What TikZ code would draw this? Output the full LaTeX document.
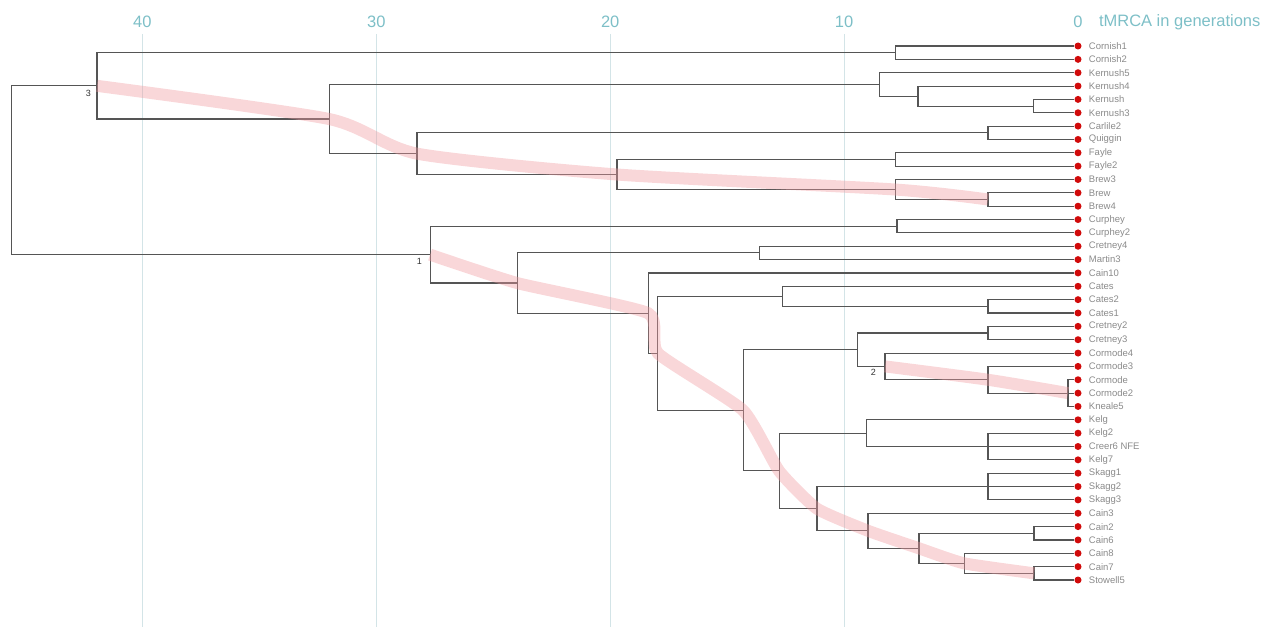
\documentclass[tikz,border=0pt]{standalone}
\usepackage{fontspec}
\setmainfont{Liberation Sans}
\usetikzlibrary{positioning}
\definecolor{branchgray}{HTML}{555555}
\definecolor{tipred}{HTML}{D10A0A}
\definecolor{leafgray}{HTML}{8A8A8A}
\definecolor{axisteal}{HTML}{7DBFC7}
\definecolor{gridblue}{HTML}{D3E4E7}
\definecolor{pathpink}{HTML}{F09AA0}
\tikzset{
  |-/.style={to path={|- (\tikztotarget) \tikztonodes}},
  branch/.style={draw=branchgray, line width=1.1pt},
  leaf/.style={shape=circle, fill=tipred, inner sep=0pt, minimum size=7pt},
  leaflab/.style={font=\fontsize{9.5}{10}\selectfont, text=leafgray, inner sep=0pt},
  axislab/.style={font=\fontsize{16.5}{18}\selectfont, text=axisteal, inner sep=1pt},
  gridline/.style={draw=gridblue, line width=1pt},
  hilite/.style={draw=pathpink, draw opacity=.4, line width=12pt},
  nodenum/.style={font=\fontsize{9}{10}\selectfont, text=black!80, inner sep=1pt}
}
\begin{document}
\begin{tikzpicture}[x=1pt, y=-1pt]
\useasboundingbox (0,0) rectangle (1273,626);
\begin{scope}[shift={(1078pt,-46pt)}, x=-23.39pt, y=-13.35pt]
  % time axis
  \foreach \g in {10,20,30,40}
    \draw[gridline] (\g,-0.9) -- (\g,43.5);
  \foreach \g in {0,10,...,40}
    \node[axislab] (ax\g) at (\g,-1.8) {\g};
  \node[axislab, right=14pt of ax0] (axtitle) {tMRCA in generations};
  % tips
  \foreach \nm [count=\i from 0] in {Cornish1,Cornish2,Kernush5,Kernush4,Kernush,Kernush3,
      Carlile2,Quiggin,Fayle,Fayle2,Brew3,Brew,Brew4,Curphey,Curphey2,Cretney4,Martin3,
      Cain10,Cates,Cates2,Cates1,Cretney2,Cretney3,Cormode4,Cormode3,Cormode,Cormode2,
      Kneale5,Kelg,Kelg2,Creer6 NFE,Kelg7,Skagg1,Skagg2,Skagg3,Cain3,Cain2,Cain6,Cain8,
      Cain7,Stowell5}
  {
    \node[leaf] (l\i) at (0,\i) {};
    \node[leaflab, right=7pt of l\i] (t\i) {\nm};
  }
  % inner nodes (age, row)
  \coordinate (root)    at (45.58, 9.30);
  \coordinate (k3)      at (41.94, 2.984);
  \coordinate (cornish) at ( 7.82, 0.5);
  \coordinate (n30)     at (32.02, 5.469);
  \coordinate (kernA)   at ( 8.47, 2.875);
  \coordinate (kernB)   at ( 6.84, 3.75);
  \coordinate (kernC)   at ( 1.92, 4.5);
  \coordinate (n28)     at (28.26, 8.0625);
  \coordinate (carl)    at ( 3.85, 6.5);
  \coordinate (n19)     at (19.71, 9.625);
  \coordinate (fayle)   at ( 7.82, 8.5);
  \coordinate (brewA)   at ( 7.82, 10.75);
  \coordinate (brewB)   at ( 3.85, 11.5);
  \coordinate (k1)      at (27.70, 15.63);
  \coordinate (curph)   at ( 7.74, 13.5);
  \coordinate (n24)     at (23.98, 17.755);
  \coordinate (cret4)   at (13.60, 15.5);
  \coordinate (n19b)    at (18.38, 20.01);
  \coordinate (n18)     at (17.96, 23.02);
  \coordinate (cates)   at (12.65, 18.75);
  \coordinate (catesB)  at ( 3.85, 19.5);
  \coordinate (n14)     at (14.32, 27.289);
  \coordinate (n9)      at ( 9.41, 22.75);
  \coordinate (cret2)   at ( 3.85, 21.5);
  \coordinate (k2)      at ( 8.25, 24);
  \coordinate (corB)    at ( 3.85, 25);
  \coordinate (corC)    at ( 0.43, 26);
  \coordinate (n13)     at (12.78, 31.828);
  \coordinate (kelgA)   at ( 9.06, 29);
  \coordinate (kelgB)   at ( 3.85, 30);
  \coordinate (n11)     at (11.16, 34.656);
  \coordinate (skagg)   at ( 3.85, 33);
  \coordinate (n7)      at ( 8.98, 36.3125);
  \coordinate (n5)      at ( 6.80, 37.625);
  \coordinate (cainA)   at ( 1.88, 36.5);
  \coordinate (n3)      at ( 4.87, 38.75);
  \coordinate (cainB)   at ( 1.88, 39.5);
  % branches
  \path[every edge/.append style={branch, |-}]
    (root)    edge (k3)      edge (k1)
    (k3)      edge (cornish) edge (n30)
    (cornish) edge (l0)      edge (l1)
    (n30)     edge (kernA)   edge (n28)
    (kernA)   edge (l2)      edge (kernB)
    (kernB)   edge (l3)      edge (kernC)
    (kernC)   edge (l4)      edge (l5)
    (n28)     edge (carl)    edge (n19)
    (carl)    edge (l6)      edge (l7)
    (n19)     edge (fayle)   edge (brewA)
    (fayle)   edge (l8)      edge (l9)
    (brewA)   edge (l10)     edge (brewB)
    (brewB)   edge (l11)     edge (l12)
    (k1)      edge (curph)   edge (n24)
    (curph)   edge (l13)     edge (l14)
    (n24)     edge (cret4)   edge (n19b)
    (cret4)   edge (l15)     edge (l16)
    (n19b)    edge (l17)     edge (n18)
    (n18)     edge (cates)   edge (n14)
    (cates)   edge (l18)     edge (catesB)
    (catesB)  edge (l19)     edge (l20)
    (n14)     edge (n9)      edge (n13)
    (n9)      edge (cret2)   edge (k2)
    (cret2)   edge (l21)     edge (l22)
    (k2)      edge (l23)     edge (corB)
    (corB)    edge (l24)     edge (corC)
    (corC)    edge (l25)     edge (l26) edge (l27)
    (n13)     edge (kelgA)   edge (n11)
    (kelgA)   edge (l28)     edge (kelgB)
    (kelgB)   edge (l29)     edge (l30) edge (l31)
    (n11)     edge (skagg)   edge (n7)
    (skagg)   edge (l32)     edge (l33) edge (l34)
    (n7)      edge (l35)     edge (n5)
    (n5)      edge (cainA)   edge (n3)
    (cainA)   edge (l36)     edge (l37)
    (n3)      edge (l38)     edge (cainB)
    (cainB)   edge (l39)     edge (l40);
  % highlighted lineages
  \draw[hilite] plot[smooth, tension=.4] coordinates {(k3) (n30) (n28) (n19) (brewA) (brewB)};
  \draw[hilite] plot[smooth, tension=.3] coordinates {(k1) (n24) (n19b) (n18) (n14) (n13) (n11) (n7) (n5) (n3) (cainB)};
  \draw[hilite] plot[smooth, tension=.4] coordinates {(k2) (corB) (corC)};
  \node[nodenum, below left=3pt and 5pt of k3] (num3) {3};
  \node[nodenum, below left=2pt and 7pt of k1] (num1) {1};
  \node[nodenum, below left=2pt and 8pt of k2] (num2) {2};
\end{scope}
\end{tikzpicture}
\end{document}
